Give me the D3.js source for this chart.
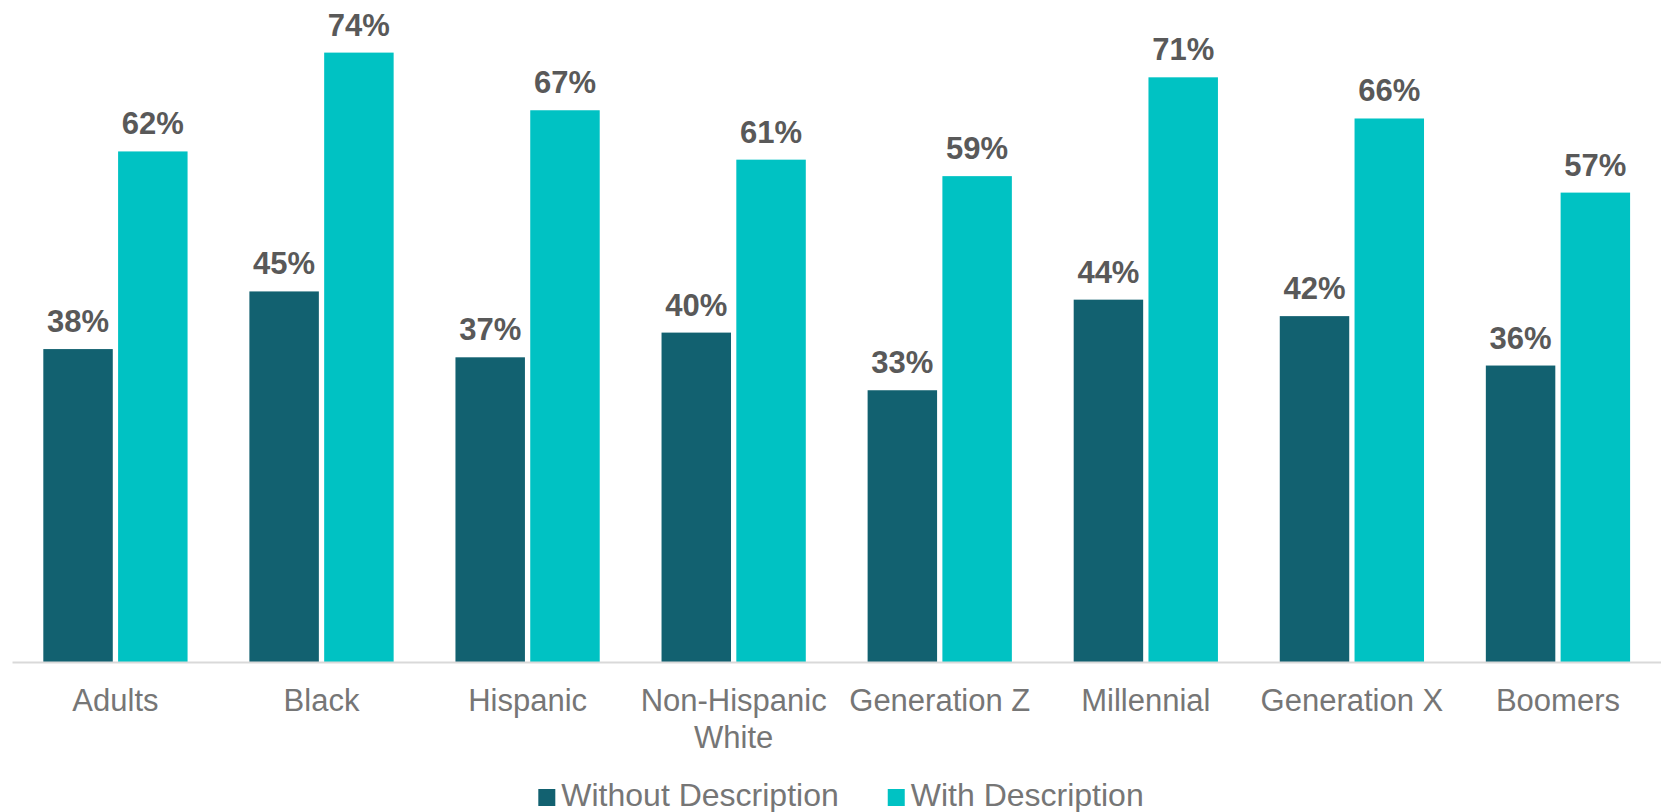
<!DOCTYPE html>
<html>
<head>
<meta charset="utf-8">
<script src="https://cdn.jsdelivr.net/npm/d3@7"></script>
<style>
  html, body { margin: 0; padding: 0; background: #ffffff; }
  svg { display: block; font-family: "Liberation Sans", Arial, sans-serif; }
</style>
</head>
<body>
<svg id="chart" width="1663" height="812"></svg>
<script>
const categories = ["Adults", "Black", "Hispanic", "Non-Hispanic White", "Generation Z", "Millennial", "Generation X", "Boomers"];
const seriesNames = ["Without Description", "With Description"];
const withoutDescription = [0.38, 0.45, 0.37, 0.40, 0.33, 0.44, 0.42, 0.36];
const withDescription = [0.62, 0.74, 0.67, 0.61, 0.59, 0.71, 0.66, 0.57];
const seriesColors = ["#126170", "#00C2C3"];

const seriesValues = [withoutDescription, withDescription];
const rows = categories.map((c, i) => ({
  category: c,
  values: seriesNames.map((s, j) => ({ series: s, value: seriesValues[j][i], color: seriesColors[j] }))
}));

const svg = d3.select("#chart");
const baseY = 662;

const x0 = d3.scaleBand().domain(categories).range([12.4, 1661]).paddingInner(0.30).paddingOuter(0.15);
const x1 = d3.scaleBand().domain(seriesNames).range([0, x0.bandwidth()]).paddingInner(0.071).paddingOuter(0);
const y = d3.scaleLinear().domain([0, 0.8]).range([baseY, baseY - 0.8 * 823.5]);

const fmt = d3.format(".0%");

const groups = svg.append("g").selectAll("g.cat")
  .data(rows).join("g")
  .attr("class", "cat")
  .attr("transform", d => `translate(${x0(d.category)},0)`);

groups.selectAll("rect")
  .data(d => d.values).join("rect")
  .attr("x", d => x1(d.series))
  .attr("y", d => y(d.value))
  .attr("width", x1.bandwidth())
  .attr("height", d => y(0) - y(d.value))
  .attr("fill", d => d.color);

groups.selectAll("text.val")
  .data(d => d.values).join("text")
  .attr("class", "val")
  .attr("x", d => x1(d.series) + x1.bandwidth() / 2)
  .attr("y", d => y(d.value) - 17)
  .attr("text-anchor", "middle")
  .attr("font-size", 31)
  .attr("font-weight", "bold")
  .attr("fill", "#595959")
  .text(d => fmt(d.value));

// baseline
svg.append("line")
  .attr("x1", 12.5).attr("x2", 1661)
  .attr("y1", baseY + 0.5).attr("y2", baseY + 0.5)
  .attr("stroke", "#d9d9d9").attr("stroke-width", 2);

// x axis
const xAxis = svg.append("g")
  .attr("transform", `translate(0,${baseY})`)
  .call(d3.axisBottom(x0).tickSize(0).tickPadding(0));
xAxis.select(".domain").remove();
xAxis.selectAll("text").remove();
xAxis.selectAll(".tick").each(function(d) {
  const t = d3.select(this).append("text")
    .attr("text-anchor", "middle")
    .attr("font-size", 31)
    .attr("fill", "#767676")
    .attr("font-family", "Liberation Sans, Arial, sans-serif");
  const words = d.split(" ");
  let lines = [];
  let line = [];
  const probe = t.append("tspan");
  words.forEach(w => {
    const test = line.concat([w]).join(" ");
    probe.text(test);
    if (probe.node().getComputedTextLength() > x0.step() - 10 && line.length) {
      lines.push(line.join(" "));
      line = [w];
    } else {
      line.push(w);
    }
  });
  lines.push(line.join(" "));
  probe.remove();
  lines.forEach((l, i) => {
    t.append("tspan").attr("x", 0).attr("y", 49 + i * 36.7).text(l);
  });
});

// legend
const legend = svg.append("g");
const items = legend.selectAll("g").data(seriesNames).join("g");
items.append("rect")
  .attr("width", 17).attr("height", 17)
  .attr("y", 789)
  .attr("fill", (d, i) => seriesColors[i]);
items.append("text")
  .attr("x", 23).attr("y", 806)
  .attr("font-size", 32)
  .attr("fill", "#767676")
  .text(d => d);
const widths = [];
items.each(function() { widths.push(this.getBBox().width); });
const gap = 49;
const total = d3.sum(widths) + gap * (widths.length - 1);
let start = 841 - total / 2;
items.attr("transform", (d, i) => {
  const tx = start;
  start += widths[i] + gap;
  return `translate(${tx},0)`;
});
</script>
</body>
</html>
